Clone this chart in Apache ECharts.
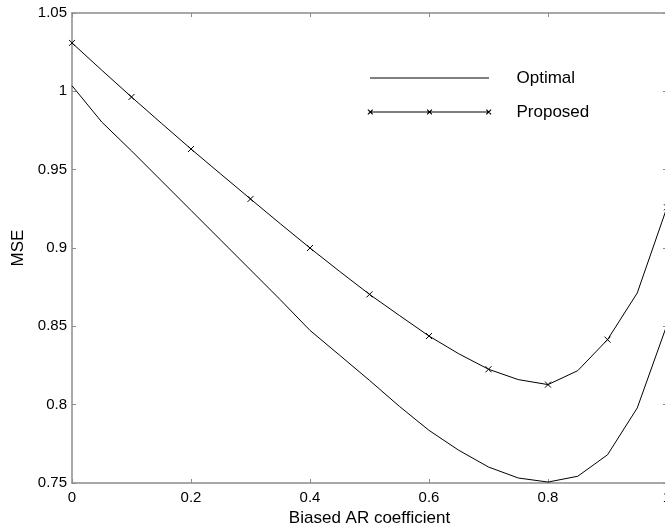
<!DOCTYPE html>
<html>
<head>
<meta charset="utf-8">
<script src="https://cdn.jsdelivr.net/npm/echarts@6/dist/echarts.min.js"></script>
<style>
  html, body { margin: 0; padding: 0; background: #fff; }
  #chart { width: 665px; height: 531px; }
</style>
</head>
<body>
<div id="chart"></div>
<script>
// AR coefficient grid (step 0.05)
var coef = [0, 0.05, 0.1, 0.15, 0.2, 0.25, 0.3, 0.35, 0.4, 0.45, 0.5,
            0.55, 0.6, 0.65, 0.7, 0.75, 0.8, 0.85, 0.9, 0.95, 1.0];
var optimal = [1.0036, 0.9804, 0.962, 0.943, 0.924, 0.905, 0.886, 0.867, 0.8474, 0.8315, 0.8155,
               0.799, 0.7836, 0.7709, 0.7602, 0.7532, 0.7506, 0.7543, 0.768, 0.7979, 0.851];
var proposed = [1.0309, 1.0135, 0.9964, 0.9797, 0.9632, 0.9472, 0.9313, 0.9155, 0.900, 0.885, 0.8704,
                0.857, 0.8438, 0.8325, 0.8226, 0.816, 0.8128, 0.8217, 0.8415, 0.8713, 0.926];
// markers only every 0.1
var markerEvery = 2;

var xTicks = { min: 0, max: 1, interval: 0.2 };
var yTicks = { min: 0.75, max: 1.05, interval: 0.05 };

var font = 'Liberation Sans, Arial, Helvetica, sans-serif';
var axisGray = '#8c8c8c';
var crossPath = 'path://M0,0L10,10M10,0L0,10';

// legend icons: a 124x7 box, line from 2.5 to 121.5 (filled thin shapes)
var ICON_W = 124, ICON_H = 7;
function boxCorners() {
  return 'M0,0L0,0M' + ICON_W + ',' + ICON_H + 'L' + ICON_W + ',' + ICON_H;
}
function hLine() {
  return 'M2.5,3L121.5,3L121.5,4L2.5,4Z';
}
function cross(cx) {
  var r = 2.4, t = 0.4, cy = 3.5;
  return 'M' + (cx - r + t) + ',' + (cy - r - t) + 'L' + (cx + r + t) + ',' + (cy + r - t) +
         'L' + (cx + r - t) + ',' + (cy + r + t) + 'L' + (cx - r - t) + ',' + (cy - r + t) + 'Z' +
         'M' + (cx + r - t) + ',' + (cy - r - t) + 'L' + (cx + r + t) + ',' + (cy - r + t) +
         'L' + (cx - r + t) + ',' + (cy + r + t) + 'L' + (cx - r - t) + ',' + (cy + r - t) + 'Z';
}
var optimalIcon = 'path://' + boxCorners() + hLine();
var proposedIcon = 'path://' + boxCorners() + hLine() + cross(2.5) + cross(62) + cross(121.5);

function pairs(ys) {
  return coef.map(function (c, i) { return [c, ys[i]]; });
}

var chart = echarts.init(document.getElementById('chart'));

function boxAxis(base, extra) {
  return Object.assign({
    type: 'value',
    min: base.min,
    max: base.max,
    interval: base.interval,
    axisLine: { show: true, onZero: false, lineStyle: { color: axisGray, width: 1.5 } },
    axisTick: { show: true, inside: true, length: 4, lineStyle: { color: axisGray } },
    splitLine: { show: false }
  }, extra);
}

chart.setOption({
  animation: false,
  backgroundColor: '#fff',
  grid: { left: 72, right: -2, top: 13, bottom: 48, outerBoundsMode: 'none', containLabel: false },
  legend: {
    orient: 'vertical',
    left: 362.5,
    top: 64.5,
    itemWidth: ICON_W,
    itemHeight: ICON_H,
    itemGap: 17,
    textStyle: { fontFamily: font, fontSize: 17, color: '#000', padding: [0, 0, 0, 20] },
    data: [
      { name: 'Optimal', icon: optimalIcon, itemStyle: { color: '#000', borderWidth: 0 } },
      { name: 'Proposed', icon: proposedIcon, itemStyle: { color: '#000', borderWidth: 0 } }
    ]
  },
  xAxis: [
    boxAxis(xTicks, {
      position: 'bottom',
      name: 'Biased AR coefficient',
      nameLocation: 'middle',
      nameGap: 25.5,
      nameTextStyle: { fontFamily: font, fontSize: 17, color: '#000' },
      axisLabel: {
        fontFamily: font, fontSize: 15, color: '#000', margin: 7,
        formatter: function (v) { return String(+v.toFixed(2)); }
      }
    }),
    boxAxis(xTicks, { position: 'top', axisLabel: { show: false } })
  ],
  yAxis: [
    boxAxis(yTicks, {
      position: 'left',
      name: 'MSE',
      nameLocation: 'middle',
      nameGap: 43.5,
      nameTextStyle: { fontFamily: font, fontSize: 17, color: '#000' },
      axisLabel: {
        fontFamily: font, fontSize: 15, color: '#000', margin: 5,
        formatter: function (v) { return String(+v.toFixed(2)); }
      }
    }),
    boxAxis(yTicks, { position: 'right', axisLabel: { show: false } })
  ],
  series: [
    {
      name: 'Optimal',
      type: 'line',
      data: pairs(optimal),
      showSymbol: false,
      lineStyle: { color: '#000', width: 1 },
      itemStyle: { color: '#000' }
    },
    {
      name: 'Proposed',
      type: 'line',
      data: pairs(proposed).map(function (p, i) {
        return i % markerEvery === 0 ? p : { value: p, symbol: 'none' };
      }),
      symbol: crossPath,
      symbolSize: 6,
      showAllSymbol: true,
      lineStyle: { color: '#000', width: 1 },
      itemStyle: { color: 'transparent', borderColor: '#000', borderWidth: 1 }
    }
  ]
});
</script>
</body>
</html>
